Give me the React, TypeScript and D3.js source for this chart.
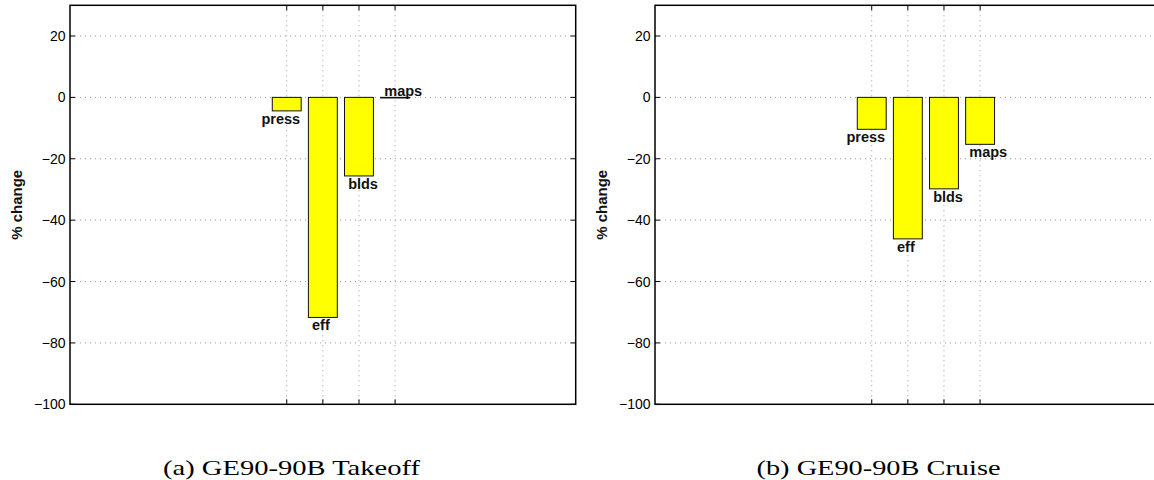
import React from 'react';
import * as d3 from 'd3';

const categories = ['press', 'eff', 'blds', 'maps'];
const takeoffValues = [-4.4, -71.7, -25.6, -0.2];
const cruiseValues = [-10.4, -46.1, -29.8, -15.3];
const yTicks = [20, 0, -20, -40, -60, -80, -100];
const captions = ['(a) GE90-90B Takeoff', '(b) GE90-90B Cruise'];

const W = 1154;
const H = 480;
const top = 5.3;
const bottom = 404.3;
const plotW = 505.7;

const sans = '"Liberation Sans", Arial, Helvetica, sans-serif';
const serif = '"Liberation Serif", "Times New Roman", serif';

const fmt = (v: number) => (v < 0 ? '\u2212' + Math.abs(v) : String(v));

const Panel = ({ left, values, caption, capX, capW }: any) => {
  const x = d3.scaleLinear().domain([-5, 9]).range([left, left + plotW]);
  const y = d3.scaleLinear().domain([-100, 30]).range([bottom, top]);
  const xTicks = categories.map((_, i) => i + 1);
  const bw = x(0.4) - x(0);

  return (
    <g>
      {/* grid */}
      {yTicks.filter(t => t > -100).map(t => (
        <line key={'gy' + t} x1={left} x2={left + plotW} y1={y(t)} y2={y(t)}
          stroke="#999" strokeWidth={1} strokeDasharray="1,4" />
      ))}
      {xTicks.map(t => (
        <line key={'gx' + t} x1={x(t)} x2={x(t)} y1={top} y2={bottom}
          stroke="#999" strokeWidth={1} strokeDasharray="1,4" />
      ))}

      {/* bars */}
      {values.map((v: number, i: number) => (
        <rect key={'b' + i} x={x(i + 1) - bw} width={bw * 2}
          y={y(0)} height={Math.max(y(v) - y(0), 0.5)}
          fill="#ffff00" stroke="#111" strokeWidth={1} />
      ))}

      {/* bar labels */}
      {values.map((v: number, i: number) => {
        const off = categories[i] === 'press' ? 0.7 : 0.3;
        const near0 = v > -1;
        return (
          <text key={'l' + i} x={x(i + 1 - off)} y={near0 ? y(0) - 1.5 : y(v) + 13}
            fontFamily={sans} fontSize={14.5} fontWeight="bold" fill="#111">
            {categories[i]}
          </text>
        );
      })}

      {/* ticks */}
      {yTicks.map(t => (
        <g key={'ty' + t}>
          <line x1={left} x2={left + 5} y1={y(t)} y2={y(t)} stroke="#000" />
          <line x1={left + plotW} x2={left + plotW - 5} y1={y(t)} y2={y(t)} stroke="#000" />
          <text x={left - 4.5} y={y(t)} dy="0.36em" textAnchor="end"
            fontFamily={sans} fontSize={14} fill="#000">{fmt(t)}</text>
        </g>
      ))}
      {xTicks.map(t => (
        <g key={'tx' + t}>
          <line x1={x(t)} x2={x(t)} y1={bottom} y2={bottom - 5} stroke="#000" />
          <line x1={x(t)} x2={x(t)} y1={top} y2={top + 5} stroke="#000" />
        </g>
      ))}

      {/* box */}
      <rect x={left} y={top} width={plotW} height={bottom - top}
        fill="none" stroke="#000" strokeWidth={1.5} />

      <text transform={`translate(${left - 53.5},${(top + bottom) / 2}) rotate(-90)`}
        textAnchor="middle" dy="0.35em" fontFamily={sans} fontSize={15}
        fontWeight="bold" fill="#111">% change</text>

      <text x={capX} y={475} fontFamily={serif} fontSize={22}
        textLength={capW} lengthAdjust="spacingAndGlyphs" fill="#000">{caption}</text>
    </g>
  );
};

export default function App() {
  return (
    <svg width={W} height={H} style={{ position: 'absolute', left: 0, top: 0, background: '#fff' }}>
      <rect width={W} height={H} fill="#fff" />
      <Panel left={70} values={takeoffValues} caption={captions[0]} capX={163} capW={257} />
      <Panel left={655} values={cruiseValues} caption={captions[1]} capX={756.5} capW={244} />
    </svg>
  );
}
